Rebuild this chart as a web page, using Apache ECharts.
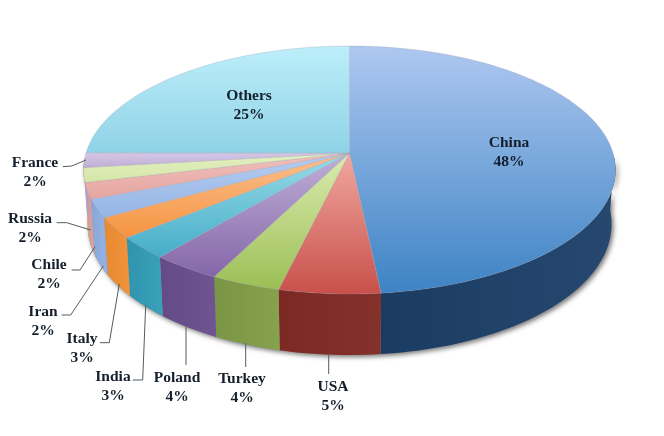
<!DOCTYPE html>
<html>
<head>
<meta charset="utf-8">
<script src="https://cdn.jsdelivr.net/npm/echarts@6/dist/echarts.min.js"></script>
<style>html,body{margin:0;padding:0;background:#fff}#c{width:664px;height:436px}</style>
</head>
<body>
<div id="c"></div>
<script>
// Data
const categories = ['China','USA','Turkey','Poland','India','Italy','Iran','Chile','Russia','France','Others'];
const shares = [48.4,5.4,3.7,3.7,2.9,2.7,2.4,2.1,1.9,1.9,25.0];

// Styling
const topLight = ['#aec8f0','#f0a8a0','#dcebb0','#c0b0d8','#9adbe8','#fbc090','#b5cdf0','#f0c0bc','#e2f0c0','#d5c8e5','#bdeefa'];
const topDark  = ['#3d83c4','#c8504a','#9bbf55','#8466a8','#45adc8','#f59440','#95b5e5','#e5a5a0','#d5e6a8','#c0aed6','#8fd2e6'];
const sideFrom = ['#26476f','#84302b','#86a24c','#6f5492','#3aa0ba','#f0923a','#92b0e0','#d8a09c','#c8d8a0','#b0a0c8','#80c0d0'];
const sideTo   = ['#1b3c62','#7c2823','#7a9544','#654a88','#2f94ae','#e88a30','#88a6d8','#cf9894','#c8d8a0','#b0a0c8','#80c0d0'];

// Label layout: [text centre x, y], leader polyline
const labelLayout = [
  {c:[509,152]},
  {c:[333,396], l:[[328.7,355],[328.7,374]]},
  {c:[242,388], l:[[245.7,343],[245.7,367]]},
  {c:[177,387], l:[[186,327],[186,365]]},
  {c:[113,386], l:[[145.7,305],[142.7,380],[132.7,380]]},
  {c:[82,348],  l:[[119.3,284],[109.3,342.7],[100,342.7]]},
  {c:[43,321],  l:[[103.3,266],[70.7,315],[61.7,315]]},
  {c:[49,274],  l:[[95,246.7],[80,270],[71.7,270]]},
  {c:[30,228],  l:[[90.7,230],[66.7,222.7],[56.7,222.7]]},
  {c:[35,172],  l:[[86,160],[71.7,166],[62.7,166.7]]},
  {c:[249,105]}
];

// Projection of the tilted disc
const cx = 349.5, y0 = 153, R = 263.5, S = 121.7, K = 0.137;
const total = shares.reduce((a,b)=>a+b,0);
const rim = (deg) => {
  const t = deg*Math.PI/180, u = Math.sin(t), v = -Math.cos(t), w = 1-K*v;
  return [cx+R*u/w, y0+S*v/w, v];
};
const lowerRim = (deg) => {
  const p = rim(deg);
  return [cx+(p[0]-cx)*0.985, p[1]+53+8*Math.max(p[2],0)];
};
const ranges = [];
shares.reduce((acc,s)=>{ const a=acc, b=acc+s/total*360; ranges.push([a,b]); return b; },0);

const steps = (a,b,fn) => {
  const n = Math.max(2,Math.ceil(Math.abs(b-a)/1.5)), out=[];
  for(let i=0;i<=n;i++) out.push(fn(a+(b-a)*i/n));
  return out;
};
const grad = (y1,y2,a,b) => new echarts.graphic.LinearGradient(0,y1,0,y2,[{offset:0,color:a},{offset:1,color:b}],true);
const gradX = (x1,x2,a,b) => new echarts.graphic.LinearGradient(x1,0,x2,0,[{offset:0,color:a},{offset:1,color:b}],true);

const chart = echarts.init(document.getElementById('c'),null,{renderer:'canvas'});
const rows = categories.map((n,i)=>[i,shares[i]]);

chart.setOption({
  animation:false,
  backgroundColor:'#ffffff',
  tooltip:{show:false},
  series:[
    { // soft shadow under the disc
      type:'custom', coordinateSystem:'none', silent:true, z:1, data:[[0]],
      renderItem(){
        const pts = steps(92,268,lowerRim).concat(steps(268,92,d=>rim(d).slice(0,2)));
        return {type:'polygon',shape:{points:pts},style:{fill:'#888',shadowColor:'rgba(0,0,0,0.55)',shadowBlur:5,shadowOffsetX:2,shadowOffsetY:2}};
      }
    },
    { // side wall
      type:'custom', coordinateSystem:'none', silent:true, z:2, data:rows,
      renderItem(p,api){
        const i = api.value(0), [a0,b0] = ranges[i];
        const a = Math.max(a0,92), b = Math.min(b0,268);
        if(b<=a) return null;
        const up = steps(a,b,d=>rim(d).slice(0,2)), lo = steps(b,a,lowerRim);
        const xs = up.map(q=>q[0]);
        const x1 = xs[0], x2 = xs[xs.length-1];
        return {type:'polygon',shape:{points:up.concat(lo)},style:{fill:gradX(x1,x2===x1?x1+1:x2,sideFrom[i],sideTo[i])}};
      }
    },
    { // top face
      type:'custom', coordinateSystem:'none', silent:true, z:3, data:rows,
      renderItem(p,api){
        const i = api.value(0), [a,b] = ranges[i];
        const pts = [[cx,y0]].concat(steps(a,b,d=>rim(d).slice(0,2)));
        const ys = pts.map(q=>q[1]);
        return {type:'polygon',shape:{points:pts},style:{
          fill:grad(Math.min(...ys),Math.max(...ys),topLight[i],topDark[i]),
          stroke:'rgba(150,150,170,0.45)',lineWidth:0.6}};
      }
    },
    { // leaders
      type:'custom', coordinateSystem:'none', silent:true, z:4, data:rows,
      renderItem(p,api){
        const l = labelLayout[api.value(0)].l;
        if(!l) return null;
        return {type:'polyline',shape:{points:l},style:{fill:'none',stroke:'#555b60',lineWidth:1}};
      }
    },
    { // labels
      type:'custom', coordinateSystem:'none', silent:true, z:5, data:rows,
      renderItem(p,api){
        const i = api.value(0), c = labelLayout[i].c;
        return {type:'text',style:{
          text:categories[i]+'\n'+Math.round(api.value(1))+'%',
          x:c[0],y:c[1],align:'center',verticalAlign:'middle',
          fontFamily:'"Liberation Serif"',fontWeight:'bold',fontSize:15.5,lineHeight:19,fill:'#141e2c'}};
      }
    }
  ]
});
</script>
</body>
</html>
